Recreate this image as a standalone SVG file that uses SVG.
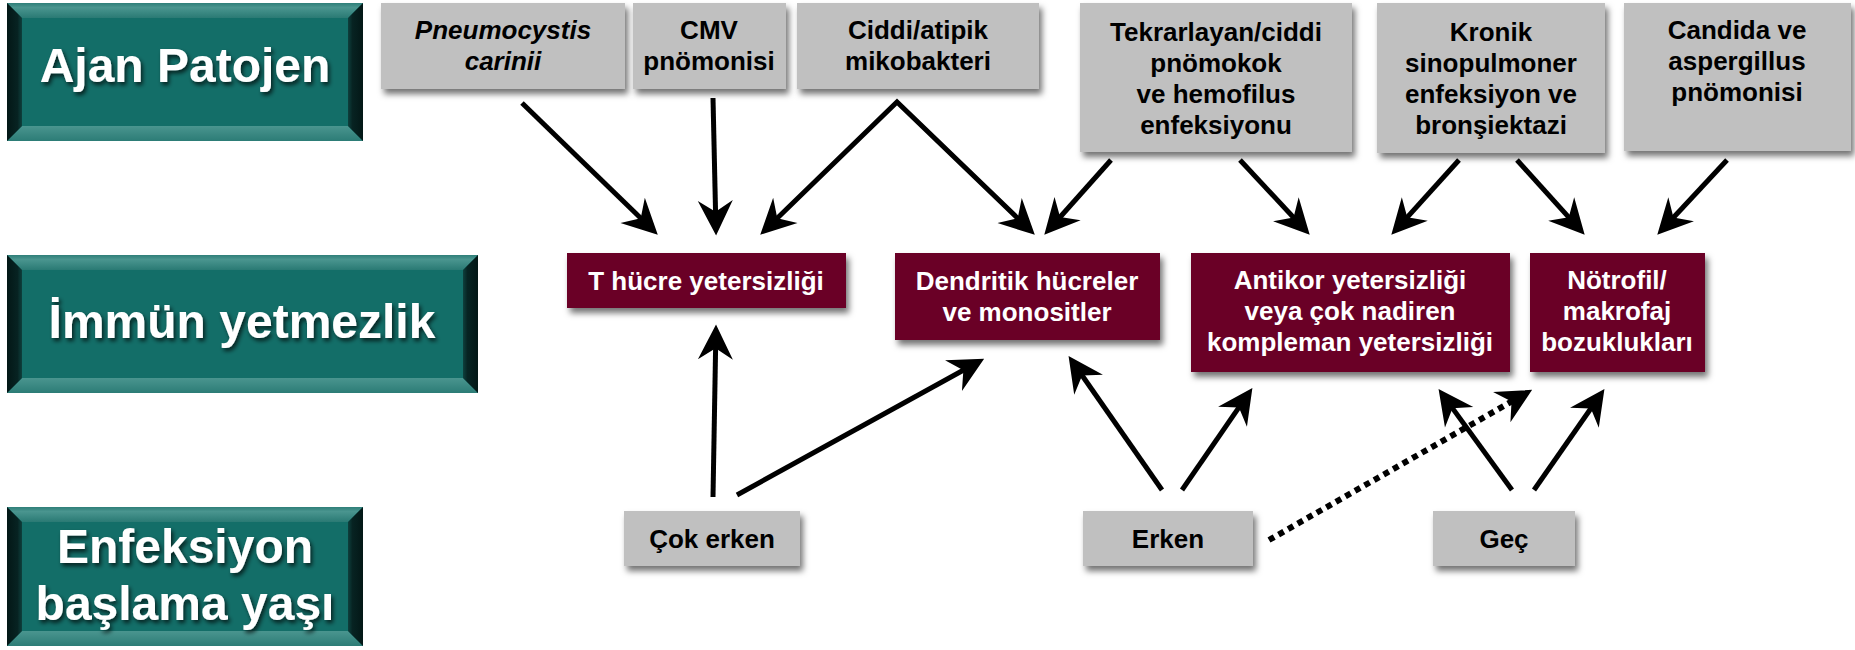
<svg xmlns="http://www.w3.org/2000/svg" width="1855" height="650" viewBox="0 0 1855 650">
<defs>
<style>
.g{fill:#c0c0c0;filter:url(#sh)}
.m{fill:#6a0026;filter:url(#sh)}
.t{font-family:"Liberation Sans",Arial,sans-serif;font-weight:bold;font-size:26px;text-anchor:middle}
.tb{fill:#000}
.tw{fill:#fff}
.h{font-family:"Liberation Sans",Arial,sans-serif;font-weight:bold;font-size:48px;text-anchor:middle;fill:#fff;filter:url(#tsh)}
.a{stroke:#000;stroke-width:5;fill:none;marker-end:url(#ah)}
.d{stroke:#000;stroke-width:6;fill:none;stroke-dasharray:6 5;marker-end:url(#ah)}
.main{fill:#136e68}
.bt{fill:url(#gt)}
.bb{fill:url(#gb)}
.bl{fill:url(#gl)}
.br{fill:url(#gr)}
</style>
<filter id="sh" x="-10%" y="-10%" width="125%" height="140%">
<feDropShadow dx="3" dy="5" stdDeviation="3" flood-color="#000" flood-opacity="0.55"/>
</filter>
<filter id="tsh" x="-10%" y="-20%" width="125%" height="150%">
<feDropShadow dx="2" dy="3" stdDeviation="2" flood-color="#000" flood-opacity="0.7"/>
</filter>
<linearGradient id="gt" x1="0" y1="0" x2="0" y2="1">
<stop offset="0" stop-color="#2f7f79"/><stop offset="0.3" stop-color="#4a958f"/><stop offset="1" stop-color="#2a7a74"/>
</linearGradient>
<linearGradient id="gb" x1="0" y1="0" x2="0" y2="1">
<stop offset="0" stop-color="#4a958f"/><stop offset="1" stop-color="#2c7c76"/>
</linearGradient>
<linearGradient id="gl" x1="0" y1="0" x2="1" y2="0">
<stop offset="0" stop-color="#031716"/><stop offset="0.7" stop-color="#072322"/><stop offset="1" stop-color="#0e403d"/>
</linearGradient>
<linearGradient id="gr" x1="1" y1="0" x2="0" y2="0">
<stop offset="0" stop-color="#031716"/><stop offset="0.7" stop-color="#072322"/><stop offset="1" stop-color="#0e403d"/>
</linearGradient>
<marker id="ah" markerUnits="userSpaceOnUse" markerWidth="40" markerHeight="40" viewBox="-2 -16 32 32" refX="18" refY="0" orient="auto-start-reverse">
<path d="M28,0 L0,-14 L9,0 L0,14 Z" fill="#000"/>
</marker>
</defs>

<g id="lbl-ajan">
<rect class="main" x="7" y="3" width="356" height="138"/>
<polygon class="bt" points="7,3 363,3 348,18 22,18"/>
<polygon class="bb" points="7,141 363,141 348,126 22,126"/>
<polygon class="bl" points="7,3 22,18 22,126 7,141"/>
<polygon class="br" points="363,3 348,18 348,126 363,141"/>
<text class="h" x="185" y="82">Ajan Patojen</text>
</g>
<g id="lbl-immun">
<rect class="main" x="7" y="255" width="471" height="138"/>
<polygon class="bt" points="7,255 478,255 463,270 22,270"/>
<polygon class="bb" points="7,393 478,393 463,378 22,378"/>
<polygon class="bl" points="7,255 22,270 22,378 7,393"/>
<polygon class="br" points="478,255 463,270 463,378 478,393"/>
<text class="h" x="242" y="338">İmmün yetmezlik</text>
</g>
<g id="lbl-enf">
<rect class="main" x="7" y="507" width="356" height="139"/>
<polygon class="bt" points="7,507 363,507 348,522 22,522"/>
<polygon class="bb" points="7,646 363,646 348,631 22,631"/>
<polygon class="bl" points="7,507 22,522 22,631 7,646"/>
<polygon class="br" points="363,507 348,522 348,631 363,646"/>
<text class="h" x="185" y="563">Enfeksiyon</text>
<text class="h" x="185" y="620">başlama yaşı</text>
</g>

<g id="p-pneumo">
<rect class="g" x="381" y="3" width="244" height="86"/>
<text class="t tb" font-style="italic"><tspan x="503" y="39">Pneumocystis</tspan><tspan x="503" y="70">carinii</tspan></text>
</g>
<g id="p-cmv">
<rect class="g" x="633" y="3" width="153" height="86"/>
<text class="t tb"><tspan x="709" y="39">CMV</tspan><tspan x="709" y="70">pnömonisi</tspan></text>
</g>
<g id="p-ciddi">
<rect class="g" x="797" y="3" width="242" height="86"/>
<text class="t tb"><tspan x="918" y="39">Ciddi/atipik</tspan><tspan x="918" y="70">mikobakteri</tspan></text>
</g>
<g id="p-tekrar">
<rect class="g" x="1080" y="3" width="272" height="149"/>
<text class="t tb"><tspan x="1216" y="41">Tekrarlayan/ciddi</tspan><tspan x="1216" y="72">pnömokok</tspan><tspan x="1216" y="103">ve hemofilus</tspan><tspan x="1216" y="134">enfeksiyonu</tspan></text>
</g>
<g id="p-kronik">
<rect class="g" x="1377" y="3" width="228" height="150"/>
<text class="t tb"><tspan x="1491" y="41">Kronik</tspan><tspan x="1491" y="72">sinopulmoner</tspan><tspan x="1491" y="103">enfeksiyon ve</tspan><tspan x="1491" y="134">bronşiektazi</tspan></text>
</g>
<g id="p-candida">
<rect class="g" x="1624" y="3" width="227" height="148"/>
<text class="t tb"><tspan x="1737" y="39">Candida ve</tspan><tspan x="1737" y="70">aspergillus</tspan><tspan x="1737" y="101">pnömonisi</tspan></text>
</g>

<g id="i-thucre">
<rect class="m" x="567" y="253" width="279" height="55"/>
<text class="t tw" x="706" y="290">T hücre yetersizliği</text>
</g>
<g id="i-dendritik">
<rect class="m" x="895" y="253" width="265" height="87"/>
<text class="t tw"><tspan x="1027" y="290">Dendritik hücreler</tspan><tspan x="1027" y="321">ve monositler</tspan></text>
</g>
<g id="i-antikor">
<rect class="m" x="1191" y="253" width="319" height="119"/>
<text class="t tw"><tspan x="1350" y="289">Antikor yetersizliği</tspan><tspan x="1350" y="320">veya çok nadiren</tspan><tspan x="1350" y="351">kompleman yetersizliği</tspan></text>
</g>
<g id="i-notrofil">
<rect class="m" x="1530" y="253" width="175" height="119"/>
<text class="t tw"><tspan x="1617" y="289">Nötrofil/</tspan><tspan x="1617" y="320">makrofaj</tspan><tspan x="1617" y="351">bozuklukları</tspan></text>
</g>

<g id="a-cokerken">
<rect class="g" x="624" y="511" width="176" height="55"/>
<text class="t tb" x="712" y="548">Çok erken</text>
</g>
<g id="a-erken">
<rect class="g" x="1083" y="511" width="170" height="55"/>
<text class="t tb" x="1168" y="548">Erken</text>
</g>
<g id="a-gec">
<rect class="g" x="1433" y="511" width="142" height="55"/>
<text class="t tb" x="1504" y="548">Geç</text>
</g>

<g id="connectors">
<line class="a" x1="522" y1="103" x2="648.8" y2="226"/>
<line class="a" x1="713" y1="98" x2="715.8" y2="223"/>
<path class="a" d="M769.2,226 L897,102 L1025.8,226.1" style="marker-start:url(#ah);stroke-linejoin:miter"/>
<line class="a" x1="1111" y1="160" x2="1052.6" y2="225.5"/>
<line class="a" x1="1240" y1="160" x2="1301.2" y2="225.7"/>
<line class="a" x1="1459" y1="160" x2="1399.7" y2="225.6"/>
<line class="a" x1="1517" y1="160" x2="1576.3" y2="225.6"/>
<line class="a" x1="1727" y1="160" x2="1665.8" y2="225.7"/>
<line class="a" x1="713" y1="497" x2="715.8" y2="337"/>
<line class="a" x1="737" y1="495" x2="973.2" y2="364.8"/>
<line class="a" x1="1162" y1="490" x2="1075.7" y2="366.2"/>
<line class="a" x1="1182" y1="490" x2="1245.3" y2="398.2"/>
<line class="d" x1="1269" y1="540" x2="1521.3" y2="396"/>
<line class="a" x1="1512" y1="490" x2="1445.9" y2="399.1"/>
<line class="a" x1="1534" y1="490" x2="1597.3" y2="399.2"/>
</g>
</svg>
